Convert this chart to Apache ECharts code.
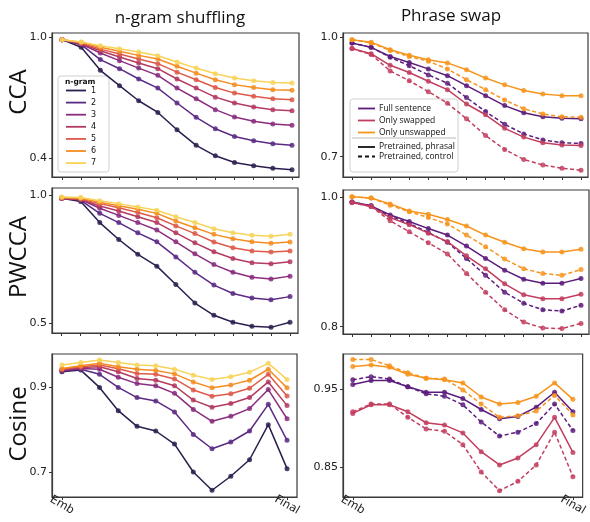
<!DOCTYPE html>
<html>
<head>
<meta charset="utf-8">
<script src="https://cdn.jsdelivr.net/npm/echarts@6/dist/echarts.min.js"></script>
<style>
    html, body { margin: 0; padding: 0; background: #fff; }
    #main { width: 590px; height: 522px; }
</style>
</head>
<body>
<div id="main"></div>
<script>
// Column titles and row labels
const colTitles = ['n-gram shuffling', 'Phrase swap'];
const rowLabels = ['CCA', 'PWCCA', 'Cosine'];
// x: Emb, 12 layers, Final is the last
const layerIdx = [0, 1, 2, 3, 4, 5, 6, 7, 8, 9, 10, 11, 12];
const xTickLabels = ['Emb', 'Final'];

// n-gram shuffling (n = 1..7)
const ngramNames = ['1', '2', '3', '4', '5', '6', '7'];
const ngramColors = ['#2b1e4f', '#5b2a85', '#8a2d7e', '#b43a5f', '#dd5a4a', '#f58d22', '#f7d35a'];

const ccaShuffle = [
    [0.987, 0.949, 0.835, 0.759, 0.684, 0.626, 0.540, 0.463, 0.411, 0.378, 0.362, 0.349, 0.342],
    [0.987, 0.962, 0.888, 0.843, 0.792, 0.747, 0.673, 0.602, 0.545, 0.507, 0.486, 0.471, 0.464],
    [0.987, 0.965, 0.921, 0.883, 0.846, 0.810, 0.747, 0.694, 0.640, 0.603, 0.582, 0.569, 0.562],
    [0.987, 0.967, 0.932, 0.901, 0.871, 0.843, 0.792, 0.747, 0.702, 0.673, 0.653, 0.640, 0.635],
    [0.987, 0.970, 0.940, 0.916, 0.891, 0.868, 0.826, 0.788, 0.750, 0.722, 0.706, 0.694, 0.689],
    [0.987, 0.974, 0.949, 0.929, 0.909, 0.891, 0.855, 0.821, 0.788, 0.764, 0.750, 0.739, 0.736],
    [0.987, 0.975, 0.957, 0.942, 0.926, 0.907, 0.876, 0.846, 0.818, 0.797, 0.783, 0.775, 0.772]
];
const pwccaShuffle = [
    [0.987, 0.974, 0.892, 0.826, 0.768, 0.722, 0.650, 0.578, 0.530, 0.503, 0.487, 0.483, 0.503],
    [0.987, 0.979, 0.928, 0.892, 0.852, 0.817, 0.758, 0.698, 0.648, 0.615, 0.598, 0.591, 0.603],
    [0.987, 0.982, 0.948, 0.920, 0.892, 0.863, 0.817, 0.770, 0.728, 0.698, 0.679, 0.672, 0.683],
    [0.987, 0.983, 0.957, 0.937, 0.915, 0.892, 0.852, 0.813, 0.778, 0.752, 0.735, 0.731, 0.739],
    [0.987, 0.984, 0.966, 0.950, 0.931, 0.911, 0.879, 0.849, 0.816, 0.794, 0.781, 0.777, 0.781],
    [0.990, 0.987, 0.971, 0.958, 0.944, 0.928, 0.898, 0.872, 0.846, 0.829, 0.817, 0.811, 0.816],
    [0.992, 0.990, 0.977, 0.966, 0.953, 0.940, 0.915, 0.892, 0.868, 0.852, 0.843, 0.839, 0.846]
];
const cosineShuffle = [
    [0.937, 0.941, 0.900, 0.845, 0.808, 0.797, 0.766, 0.700, 0.657, 0.690, 0.729, 0.812, 0.708],
    [0.939, 0.943, 0.931, 0.900, 0.876, 0.868, 0.842, 0.789, 0.755, 0.771, 0.797, 0.860, 0.775],
    [0.940, 0.945, 0.943, 0.924, 0.909, 0.904, 0.886, 0.848, 0.820, 0.832, 0.850, 0.895, 0.826],
    [0.941, 0.947, 0.949, 0.937, 0.921, 0.917, 0.904, 0.870, 0.853, 0.862, 0.876, 0.913, 0.857],
    [0.943, 0.949, 0.953, 0.944, 0.933, 0.931, 0.920, 0.894, 0.879, 0.885, 0.898, 0.931, 0.880],
    [0.945, 0.951, 0.957, 0.949, 0.943, 0.940, 0.932, 0.913, 0.899, 0.906, 0.917, 0.943, 0.899],
    [0.953, 0.959, 0.965, 0.959, 0.953, 0.951, 0.943, 0.929, 0.919, 0.925, 0.936, 0.957, 0.919]
];

// Phrase swap: Full sentence, Only swapped, Only unswapped
const swapNames = ['Full sentence', 'Only swapped', 'Only unswapped'];
const swapColors = ['#5c1c7c', '#c23e5f', '#f7941d'];
const modelNames = ['Pretrained, phrasal', 'Pretrained, control'];

const ccaSwapPhrasal = [
    [0.985, 0.974, 0.951, 0.936, 0.920, 0.903, 0.878, 0.853, 0.828, 0.810, 0.800, 0.796, 0.795],
    [0.971, 0.958, 0.929, 0.911, 0.889, 0.868, 0.832, 0.805, 0.771, 0.749, 0.735, 0.729, 0.728],
    [0.993, 0.987, 0.968, 0.954, 0.943, 0.935, 0.918, 0.897, 0.880, 0.866, 0.857, 0.853, 0.853]
];
const ccaSwapControl = [
    [0.985, 0.974, 0.949, 0.928, 0.905, 0.884, 0.848, 0.813, 0.781, 0.757, 0.742, 0.735, 0.733],
    [0.971, 0.956, 0.915, 0.890, 0.863, 0.834, 0.795, 0.753, 0.718, 0.693, 0.679, 0.671, 0.666],
    [0.993, 0.985, 0.966, 0.951, 0.939, 0.920, 0.893, 0.868, 0.842, 0.820, 0.807, 0.800, 0.799]
];
const pwccaSwapPhrasal = [
    [0.992, 0.986, 0.972, 0.962, 0.951, 0.941, 0.924, 0.905, 0.887, 0.873, 0.867, 0.867, 0.874],
    [0.991, 0.985, 0.968, 0.957, 0.944, 0.931, 0.909, 0.889, 0.866, 0.849, 0.843, 0.843, 0.850],
    [1.000, 0.998, 0.989, 0.978, 0.973, 0.965, 0.955, 0.941, 0.930, 0.920, 0.915, 0.915, 0.919]
];
const pwccaSwapControl = [
    [0.992, 0.986, 0.970, 0.959, 0.945, 0.930, 0.905, 0.879, 0.853, 0.836, 0.826, 0.824, 0.833],
    [0.991, 0.985, 0.963, 0.946, 0.929, 0.912, 0.882, 0.853, 0.826, 0.807, 0.798, 0.797, 0.805],
    [1.000, 0.998, 0.987, 0.977, 0.968, 0.958, 0.941, 0.923, 0.904, 0.889, 0.882, 0.879, 0.888]
];
const cosineSwapPhrasal = [
    [0.956, 0.961, 0.961, 0.953, 0.946, 0.946, 0.938, 0.924, 0.912, 0.915, 0.927, 0.946, 0.921],
    [0.919, 0.930, 0.930, 0.921, 0.907, 0.904, 0.894, 0.870, 0.853, 0.862, 0.879, 0.914, 0.869],
    [0.979, 0.981, 0.978, 0.969, 0.964, 0.962, 0.958, 0.940, 0.931, 0.933, 0.941, 0.958, 0.937]
];
const cosineSwapControl = [
    [0.962, 0.966, 0.963, 0.953, 0.944, 0.941, 0.930, 0.908, 0.890, 0.895, 0.906, 0.931, 0.897],
    [0.921, 0.931, 0.931, 0.914, 0.899, 0.896, 0.879, 0.844, 0.820, 0.832, 0.853, 0.895, 0.838],
    [0.988, 0.988, 0.980, 0.971, 0.964, 0.963, 0.949, 0.931, 0.914, 0.916, 0.922, 0.942, 0.917]
];

// y tick labels for each panel
const yTicks = [[0.4, 1.0], [0.7, 1.0], [0.5, 1.0], [0.8, 1.0], [0.7, 0.9], [0.85, 0.95]];


// Panel boxes and axis ranges
const grids = [
    { left: 52, top: 33, width: 247, height: 144 },
    { left: 343, top: 33, width: 245, height: 144 },
    { left: 52, top: 188, width: 246, height: 145 },
    { left: 343, top: 190, width: 246, height: 144 },
    { left: 52, top: 354, width: 245, height: 143 },
    { left: 343, top: 354, width: 245, height: 143 }
];
const xRange = [[-0.522, 12.365], [-0.472, 12.366], [-0.51, 12.42], [-0.472, 12.42], [-0.533, 12.53], [-0.533, 12.53]];
const yRange = [[0.306, 1.02], [0.649, 1.01], [0.461, 1.027], [0.7887, 1.0104], [0.641, 0.979], [0.812, 0.995]];
const decimals = [1, 1, 1, 1, 1, 2];

const tickFont = 'DejaVu Sans';
const frameColor = '#3a3a3a';

function pairs(values) {
    return values.map((v, i) => [layerIdx[i], v]);
}

let series = [];

// n-gram shuffling panels (left column)
[ccaShuffle, pwccaShuffle, cosineShuffle].forEach((block, row) => {
    block.forEach((values, k) => {
        series.push({
            name: ngramNames[k],
            type: 'line',
            xAxisIndex: row * 2,
            yAxisIndex: row * 2,
            data: pairs(values),
            symbol: 'circle',
            symbolSize: 5,
            lineStyle: { color: ngramColors[k], width: 1.5 },
            itemStyle: { color: ngramColors[k], opacity: 0.85 },
            emphasis: { disabled: true },
            z: 2 + k
        });
    });
});

// Phrase swap panels (right column)
[[ccaSwapPhrasal, ccaSwapControl], [pwccaSwapPhrasal, pwccaSwapControl], [cosineSwapPhrasal, cosineSwapControl]]
    .forEach((pair, row) => {
        pair.forEach((block, m) => {
            block.forEach((values, k) => {
                series.push({
                    name: swapNames[k] + (m ? ' control' : ''),
                    type: 'line',
                    xAxisIndex: row * 2 + 1,
                    yAxisIndex: row * 2 + 1,
                    data: pairs(values),
                    symbol: 'circle',
                    symbolSize: 5,
                    lineStyle: { color: swapColors[k], width: 1.5, type: m ? [4, 2.5] : 'solid' },
                    itemStyle: { color: swapColors[k], opacity: 0.85 },
                    emphasis: { disabled: true },
                    z: 2 + k
                });
            });
        });
    });

const xAxes = grids.map((g, i) => {
    const bottomRow = i >= 4;
    return {
        type: 'value',
        gridIndex: i,
        position: 'bottom',
        min: xRange[i][0],
        max: xRange[i][1],
        axisLine: { show: true, onZero: false, lineStyle: { color: frameColor, width: 1.2 } },
        splitLine: { show: false },
        axisTick: {
            show: true,
            length: 3,
            customValues: bottomRow ? [0, 12] : layerIdx,
            lineStyle: { color: '#333' }
        },
        axisLabel: {
            show: bottomRow,
            customValues: [0, 12],
            formatter: v => (v === 0 ? xTickLabels[0] : xTickLabels[1]),
            rotate: -30,
            align: 'center',
            margin: 8,
            fontSize: 11.5,
            fontFamily: tickFont,
            color: '#222'
        }
    };
});

const yAxes = grids.map((g, i) => ({
    type: 'value',
    gridIndex: i,
    position: 'left',
    min: yRange[i][0],
    max: yRange[i][1],
    axisLine: { show: true, onZero: false, lineStyle: { color: frameColor, width: 1.2 } },
    splitLine: { show: false },
    axisTick: { show: true, length: 3, customValues: yTicks[i], lineStyle: { color: '#333' } },
    axisLabel: {
        customValues: yTicks[i],
        formatter: v => v.toFixed(decimals[i]),
        margin: 5,
        fontSize: 11,
        fontFamily: tickFont,
        color: '#222'
    }
}));

// Titles, row labels and the two legends drawn as graphic
let graphic = [];
graphic.push({ type: 'text', x: 180, y: 18, style: { text: colTitles[0], align: 'center', verticalAlign: 'middle', font: '17px "Open Sans"', fill: '#111' } });
graphic.push({ type: 'text', x: 451, y: 16, style: { text: colTitles[1], align: 'center', verticalAlign: 'middle', font: '17px "Open Sans"', fill: '#111' } });
[92, 257, 424].forEach((cy, r) => {
    graphic.push({
        type: 'text', x: 19, y: cy, rotation: Math.PI / 2,
        style: { text: rowLabels[r], align: 'center', verticalAlign: 'middle', font: '24px "Open Sans"', fill: '#111' }
    });
});

// n-gram legend
let ngramLegend = [
    { type: 'rect', shape: { x: 58, y: 76, width: 51, height: 96, r: 3 }, style: { fill: 'rgba(255,255,255,0.85)', stroke: '#d0d0d0', lineWidth: 1 } },
    { type: 'text', x: 65, y: 82, style: { text: 'n-gram', font: 'bold 7.5px "DejaVu Sans"', fill: '#111', verticalAlign: 'middle' } }
];
ngramNames.forEach((n, k) => {
    const y = 90.5 + k * 12.1;
    ngramLegend.push({ type: 'line', shape: { x1: 66, y1: y, x2: 86, y2: y }, style: { stroke: ngramColors[k], lineWidth: 1.8 } });
    ngramLegend.push({ type: 'text', x: 91, y: y, style: { text: n, font: '8px "DejaVu Sans"', fill: '#111', verticalAlign: 'middle' } });
});
graphic.push({ type: 'group', z: 50, children: ngramLegend });

// phrase swap legend
let swapLegend = [
    { type: 'rect', shape: { x: 350, y: 99, width: 108, height: 73, r: 3 }, style: { fill: 'rgba(255,255,255,0.85)', stroke: '#d0d0d0', lineWidth: 1 } },
    { type: 'line', shape: { x1: 352, y1: 138, x2: 456, y2: 138 }, style: { stroke: '#bbb', lineWidth: 1 } }
];
swapNames.forEach((n, k) => {
    const y = 108.5 + k * 12;
    swapLegend.push({ type: 'line', shape: { x1: 358, y1: y, x2: 375, y2: y }, style: { stroke: swapColors[k], lineWidth: 1.8 } });
    swapLegend.push({ type: 'text', x: 379, y: y, style: { text: n, font: '8.5px "Open Sans"', fill: '#111', verticalAlign: 'middle' } });
});
modelNames.forEach((n, m) => {
    const y = 147 + m * 9.5;
    swapLegend.push({ type: 'line', shape: { x1: 358, y1: y, x2: 375, y2: y }, style: { stroke: '#111', lineWidth: 1.8, lineDash: m ? [4, 3] : null } });
    swapLegend.push({ type: 'text', x: 379, y: y, style: { text: n, font: '8.5px "Open Sans"', fill: '#111', verticalAlign: 'middle' } });
});
graphic.push({ type: 'group', z: 50, children: swapLegend });

function drawChart() {
    let myChart = echarts.init(document.getElementById('main'), null, { renderer: 'canvas' });
    let option = {
        animation: false,
        backgroundColor: '#fff',
        grid: grids.map(g => Object.assign({ show: true, borderColor: frameColor, borderWidth: 1.2, backgroundColor: 'transparent' }, g)),
        xAxis: xAxes,
        yAxis: yAxes,
        series: series,
        graphic: graphic
    };
    myChart.setOption(option);
}

drawChart();
</script>
</body>
</html>
